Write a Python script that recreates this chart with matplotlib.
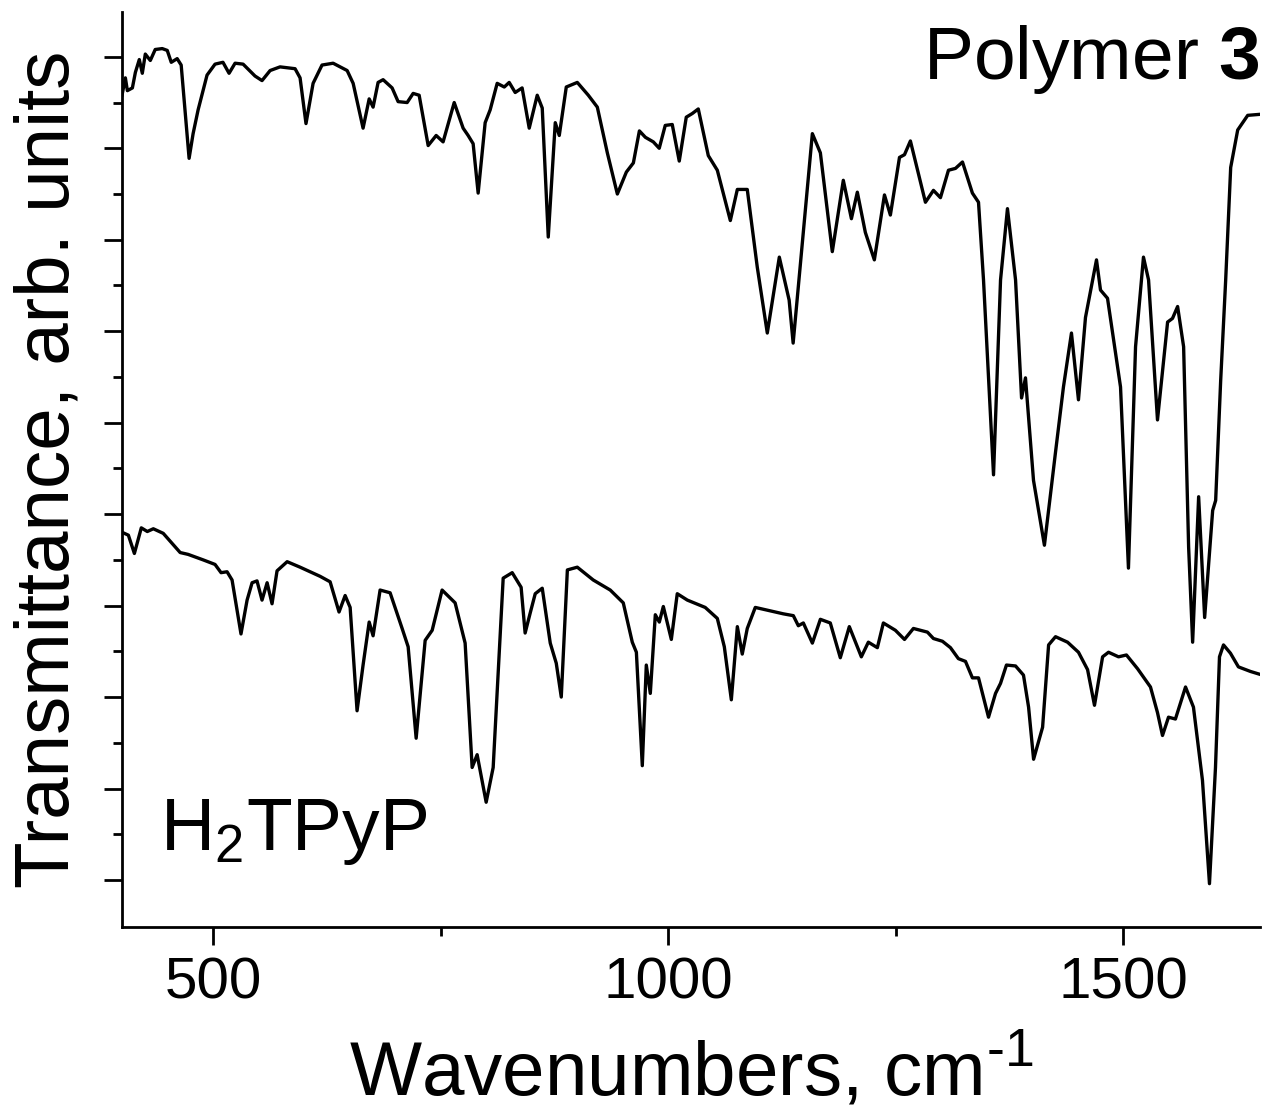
import matplotlib
matplotlib.use("Agg")
import matplotlib.pyplot as plt
from matplotlib.ticker import MultipleLocator, FixedLocator

plt.rcParams["font.family"] = ["Liberation Sans", "DejaVu Sans"]
plt.rcParams["mathtext.fontset"] = "custom"
plt.rcParams["mathtext.rm"] = "Liberation Sans"
plt.rcParams["mathtext.bf"] = "Liberation Sans:bold"

# ------------------------------------------------ spectra
poly_wn = [400.0, 403.7, 405.9, 411.4, 414.7, 419.0, 422.3, 425.6, 431.1, 436.5,
           444.2, 449.7, 454.1, 460.6, 465.0, 473.7, 478.1, 483.6, 493.4, 502.2,
           510.9, 517.6, 524.2, 533.0, 546.1, 553.8, 562.7, 573.6, 590.1, 595.6,
           602.1, 609.9, 619.7, 631.9, 647.3, 653.9, 664.8, 671.5, 675.8, 681.3,
           686.8, 696.7, 703.3, 713.2, 719.8, 726.4, 736.3, 745.1, 752.7, 764.9,
           774.7, 780.2, 785.7, 791.2, 798.9, 804.4, 812.1, 819.9, 825.3, 831.9,
           839.5, 847.3, 856.1, 861.6, 868.2, 875.9, 880.3, 888.0, 900.1, 912.2,
           922.1, 933.1, 944.1, 954.0, 961.7, 968.3, 974.9, 983.6, 990.1, 996.7,
           1004.4, 1012.1, 1019.8, 1026.4, 1033.0, 1044.0, 1053.9, 1068.2, 1075.9, 1086.8,
           1097.8, 1108.8, 1122.0, 1132.8, 1137.2, 1158.3, 1167.1, 1180.2, 1192.3, 1201.2,
           1207.7, 1216.5, 1226.4, 1237.5, 1244.0, 1254.0, 1259.5, 1266.0, 1282.5, 1291.3,
           1299.0, 1307.8, 1315.5, 1323.2, 1334.1, 1340.8, 1346.3, 1357.3, 1365.0, 1372.6,
           1381.5, 1388.1, 1392.4, 1401.2, 1413.2, 1425.3, 1434.1, 1442.9, 1450.6, 1458.3,
           1470.4, 1474.8, 1482.5, 1496.8, 1505.5, 1513.3, 1522.0, 1527.6, 1537.4, 1548.5,
           1553.9, 1559.5, 1566.1, 1571.6, 1576.0, 1582.6, 1589.2, 1598.0, 1601.3, 1606.8,
           1612.3, 1617.8, 1625.5, 1636.5, 1648.5]
poly_t = [85.8, 87.7, 86.3, 86.6, 88.3, 89.7, 88.2, 90.3, 89.6, 90.8,
          90.9, 90.7, 89.4, 89.8, 89.1, 78.9, 81.6, 84.2, 88.0, 89.2,
          89.4, 88.2, 89.3, 89.2, 87.9, 87.4, 88.5, 88.9, 88.7, 87.7,
          82.7, 87.1, 89.1, 89.3, 88.5, 87.1, 82.2, 85.4, 84.5, 87.2,
          87.5, 86.6, 85.1, 85.0, 86.0, 85.8, 80.3, 81.4, 80.7, 85.0,
          82.2, 81.4, 80.5, 75.1, 82.8, 84.2, 87.1, 86.7, 87.2, 86.1,
          86.6, 82.2, 85.8, 84.4, 70.3, 82.8, 81.4, 86.7, 87.2, 85.8,
          84.5, 79.5, 75.0, 77.4, 78.4, 81.9, 81.2, 80.7, 80.0, 82.5,
          82.6, 78.6, 83.4, 83.8, 84.3, 79.2, 77.6, 72.1, 75.5, 75.5,
          67.0, 59.8, 68.1, 63.4, 58.7, 81.6, 79.5, 68.7, 76.5, 72.3,
          75.2, 70.8, 67.8, 74.9, 72.7, 79.0, 79.3, 80.8, 74.1, 75.4,
          74.6, 77.6, 77.8, 78.5, 75.1, 74.1, 65.6, 44.3, 65.6, 73.4,
          65.6, 52.7, 54.9, 43.7, 36.6, 46.7, 53.9, 59.8, 52.5, 61.5,
          67.8, 64.5, 63.6, 53.9, 34.1, 58.3, 68.1, 65.6, 50.3, 61.0,
          61.4, 62.7, 58.3, 36.4, 26.0, 41.9, 28.7, 40.4, 41.5, 54.6,
          65.6, 77.9, 82.0, 83.6, 83.7]

por_wn = [400.4, 407.0, 413.6, 421.2, 427.8, 434.4, 445.3, 463.9, 472.6, 489.1,
          502.2, 508.8, 515.4, 520.9, 530.7, 537.4, 542.9, 548.3, 553.8, 559.4,
          564.8, 570.3, 581.4, 595.6, 617.6, 628.6, 638.4, 645.1, 650.6, 658.2,
          664.8, 671.5, 675.8, 683.5, 694.5, 707.7, 714.3, 723.1, 733.0, 740.7,
          751.6, 765.9, 776.9, 784.6, 790.1, 800.0, 807.7, 818.7, 828.6, 838.4,
          842.8, 848.4, 853.9, 861.6, 870.4, 877.0, 882.5, 889.2, 900.1, 917.6,
          936.3, 950.6, 960.5, 965.0, 971.5, 975.9, 980.3, 985.8, 990.2, 994.6,
          1003.4, 1009.9, 1021.0, 1040.6, 1053.9, 1061.6, 1069.3, 1075.9, 1081.3, 1086.8,
          1095.6, 1126.4, 1137.4, 1142.9, 1148.4, 1158.3, 1167.1, 1178.0, 1189.0, 1198.9,
          1212.1, 1219.8, 1229.7, 1236.3, 1249.5, 1259.5, 1269.3, 1284.7, 1291.3, 1301.2,
          1310.0, 1318.7, 1326.5, 1334.1, 1340.8, 1351.8, 1359.5, 1365.0, 1371.5, 1381.5,
          1390.2, 1395.8, 1401.3, 1411.2, 1417.8, 1425.4, 1438.6, 1450.6, 1460.6, 1468.2,
          1477.1, 1483.6, 1494.6, 1503.3, 1515.5, 1529.7, 1537.4, 1542.9, 1549.5, 1557.1,
          1568.2, 1576.9, 1586.8, 1594.5, 1601.1, 1605.5, 1609.9, 1617.5, 1626.3, 1639.5,
          1649.4]
por_t = [38.0, 37.7, 35.7, 38.5, 38.1, 38.4, 37.9, 35.8, 35.6, 35.0,
         34.5, 33.6, 33.7, 32.8, 26.9, 30.6, 32.5, 32.7, 30.6, 32.5,
         30.2, 33.8, 34.8, 34.2, 33.2, 32.6, 29.3, 31.1, 29.8, 18.5,
         23.5, 28.2, 26.7, 31.7, 31.4, 27.5, 25.5, 15.5, 26.2, 27.3,
         31.7, 30.3, 25.9, 12.3, 13.7, 8.5, 12.3, 33.0, 33.6, 32.0,
         27.0, 29.2, 31.3, 31.9, 25.9, 23.7, 20.0, 33.9, 34.2, 32.8,
         31.7, 30.3, 26.0, 24.9, 12.5, 23.5, 20.4, 29.0, 28.2, 29.9,
         26.3, 31.3, 30.6, 29.8, 28.6, 25.5, 19.7, 27.7, 24.7, 27.5,
         29.8, 29.1, 28.9, 27.8, 28.1, 25.9, 28.5, 28.1, 24.3, 27.7,
         24.4, 26.0, 25.4, 28.1, 27.3, 26.3, 27.5, 27.1, 26.4, 26.1,
         25.4, 24.2, 23.9, 22.1, 22.1, 17.8, 20.4, 21.5, 23.5, 23.4,
         22.4, 18.9, 13.2, 16.7, 25.7, 26.6, 26.0, 24.9, 23.0, 19.1,
         24.4, 24.9, 24.4, 24.6, 23.1, 21.1, 18.3, 15.8, 17.8, 17.6,
         21.1, 18.9, 10.9, -0.4, 12.3, 24.4, 25.7, 24.8, 23.3, 22.8,
         22.5]

# ------------------------------------------------ figure
fig = plt.figure(figsize=(12.67, 11.15), dpi=100)
ax = fig.add_axes([122 / 1267, 188 / 1115, 1138 / 1267, 915 / 1115])

ax.plot(poly_wn, poly_t, color="black", lw=2.4, solid_joinstyle="round")
ax.plot(por_wn, por_t, color="black", lw=2.4, solid_joinstyle="round")

ax.set_xlim(400, 1650)
ax.set_ylim(-5.14, 94.9)

for s in ("top", "right"):
    ax.spines[s].set_visible(False)
for s in ("left", "bottom"):
    ax.spines[s].set_linewidth(2)

ax.xaxis.set_major_locator(FixedLocator([500, 1000, 1500]))
ax.xaxis.set_minor_locator(FixedLocator([750, 1250]))
ax.yaxis.set_major_locator(MultipleLocator(10))
ax.yaxis.set_minor_locator(FixedLocator(list(range(5, 90, 10))))
ax.set_yticklabels([])
ax.tick_params(which="major", direction="out", length=13, width=2, labelsize=42, pad=8)
ax.tick_params(which="minor", direction="out", length=6.5, width=2)

ax.set_xlabel(r"Wavenumbers, cm$^{\text{-1}}$", fontsize=55, labelpad=16)
ax.set_ylabel("Transmittance, arb. units", fontsize=55, labelpad=6)

ax.text(1.0, 0.927, r"Polymer $\mathbf{3}$", transform=ax.transAxes,
        ha="right", va="baseline", fontsize=54)
ax.text(0.033, 0.084, r"H$_2$TPyP", transform=ax.transAxes,
        ha="left", va="baseline", fontsize=54)

fig.savefig("out.png", dpi=100)
